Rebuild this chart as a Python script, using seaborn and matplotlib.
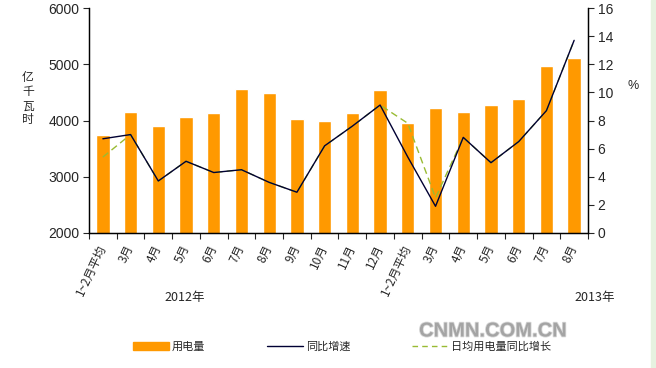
import numpy as np
import pandas as pd
import matplotlib
matplotlib.use("Agg")
import matplotlib.pyplot as plt
import matplotlib.patheffects as pe
import seaborn as sns
from matplotlib.lines import Line2D
from matplotlib.patches import Patch, Rectangle

# ── données ──
mois = ["1~2月平均", "3月", "4月", "5月", "6月", "7月", "8月", "9月", "10月",
        "11月", "12月", "1~2月平均", "3月", "4月", "5月", "6月", "7月", "8月"]
annee = ["2012"] * 11 + ["2013"] * 7
conso = [3740, 4160, 3900, 4055, 4125, 4555, 4485, 4035, 4000,
         4125, 4540, 3950, 4230, 4160, 4270, 4375, 4965, 5105]
croissance = [6.7, 7.0, 3.7, 5.1, 4.3, 4.5, 3.6, 2.9, 6.2,
              7.6, 9.1, 5.4, 1.9, 6.8, 5.0, 6.5, 8.7, 13.7]
croissance_jour = [5.4, 7.0, 3.7, 5.1, 4.3, 4.5, 3.6, 2.9, 6.2,
                   7.6, 9.1, 7.8, 2.5, 6.8, 5.0, 6.5, 8.7, 13.7]

df = pd.DataFrame({
    "cle": [f"{a}-{m}" for a, m in zip(annee, mois)],
    "mois": mois,
    "conso": conso,
    "croissance": croissance,
    "croissance_jour": croissance_jour,
})
df["pos"] = np.arange(len(df))

sns.set_style("white")
plt.rcParams["font.family"] = ["Liberation Sans", "Noto Sans CJK SC", "DejaVu Sans"]
cjk = ["Noto Sans CJK SC", "DejaVu Sans"]

ORANGE = "#FF9900"
NAVY = "#000033"
VERT = "#99BB33"

fig = plt.figure(figsize=(6.56, 3.68), dpi=100)
ax = fig.add_axes([89 / 656, 1 - 233 / 368, (588 - 89) / 656, (233 - 8) / 368])

sns.barplot(data=df, x="cle", y="conso", color=ORANGE, width=0.48,
            saturation=1, ax=ax)
ax.set_ylim(2000, 6000)
ax.set_xlim(-0.5, len(df) - 0.5)
ax.set_yticks([2000, 3000, 4000, 5000, 6000])
ax.set_xlabel("")
ax.set_ylabel("")

# axe secondaire (%)
ax2 = ax.twinx()
sns.lineplot(data=df, x="pos", y="croissance", color=NAVY, lw=1, ax=ax2)
sns.lineplot(data=df, x="pos", y="croissance_jour", color=VERT, lw=1,
             ax=ax2, linestyle=(0, (5, 3)))
ax2.lines[0].set_zorder(3)
ax2.set_ylim(0, 16)
ax2.set_yticks(range(0, 17, 2))
ax2.set_xlim(-0.5, len(df) - 0.5)
ax2.set_xlabel("")
ax2.set_ylabel("")

for a in (ax, ax2):
    a.spines["top"].set_visible(False)
    for s in ("left", "right", "bottom"):
        a.spines[s].set_color("black")
        a.spines[s].set_linewidth(0.9)
ax.tick_params(axis="y", direction="out", length=4, width=0.8, labelsize=10,
               left=True, pad=3)
ax2.tick_params(axis="y", direction="out", length=4, width=0.8, labelsize=10,
                right=True, pad=3)

# x ticks: marques entre catégories, étiquettes au centre
ax.set_xticks(np.arange(len(df)))
ax.set_xticklabels(df["mois"], rotation=65, ha="right", va="center",
                   rotation_mode="anchor", fontsize=8.5, family=cjk)
ax.tick_params(axis="x", which="major", length=0, pad=9)
ax.set_xticks(np.arange(-0.5, len(df)), minor=True)
ax.tick_params(axis="x", which="minor", direction="out", length=4, width=0.8,
               bottom=True)

# textes
for i, ch in enumerate("亿千瓦时"):
    fig.text(28 / 656, 1 - (78 + 14 * i) / 368, ch, ha="center", va="center",
             fontsize=8.5, family=cjk)
fig.text(633 / 656, 1 - 86 / 368, "%", ha="center", va="center", fontsize=9)
fig.text(185 / 656, 1 - 298 / 368, "2012年", ha="center", va="center",
         fontsize=9, family=cjk)
fig.text(595 / 656, 1 - 298 / 368, "2013年", ha="center", va="center",
         fontsize=9, family=cjk)
fig.text(493 / 656, 1 - 331 / 368, "CNMN.COM.CN", ha="center", va="center",
         fontsize=14.5, color="#a4a4a4", fontweight="bold",
         path_effects=[pe.withStroke(linewidth=1.2, foreground="#d8d8d8")])

# légende
handles = [
    Patch(facecolor=ORANGE, edgecolor=ORANGE),
    Line2D([0], [0], color=NAVY, lw=1),
    Line2D([0], [0], color=VERT, lw=1, linestyle=(0, (4, 3))),
]
labels = ["用电量", "同比增速", "日均用电量同比增长"]
fig.legend(handles, labels, loc="center", bbox_to_anchor=(342 / 656, 1 - 347 / 368),
           ncol=3, frameon=False, prop={"family": cjk, "size": 8},
           handlelength=3.2, handleheight=0.7, handletextpad=0.25,
           columnspacing=5.6)

# bande verte claire à droite
fig.patches.append(Rectangle((651 / 656, 0), 5 / 656, 1,
                   transform=fig.transFigure, color="#e6f2e0", zorder=0))

fig.savefig("out.png", dpi=100)
